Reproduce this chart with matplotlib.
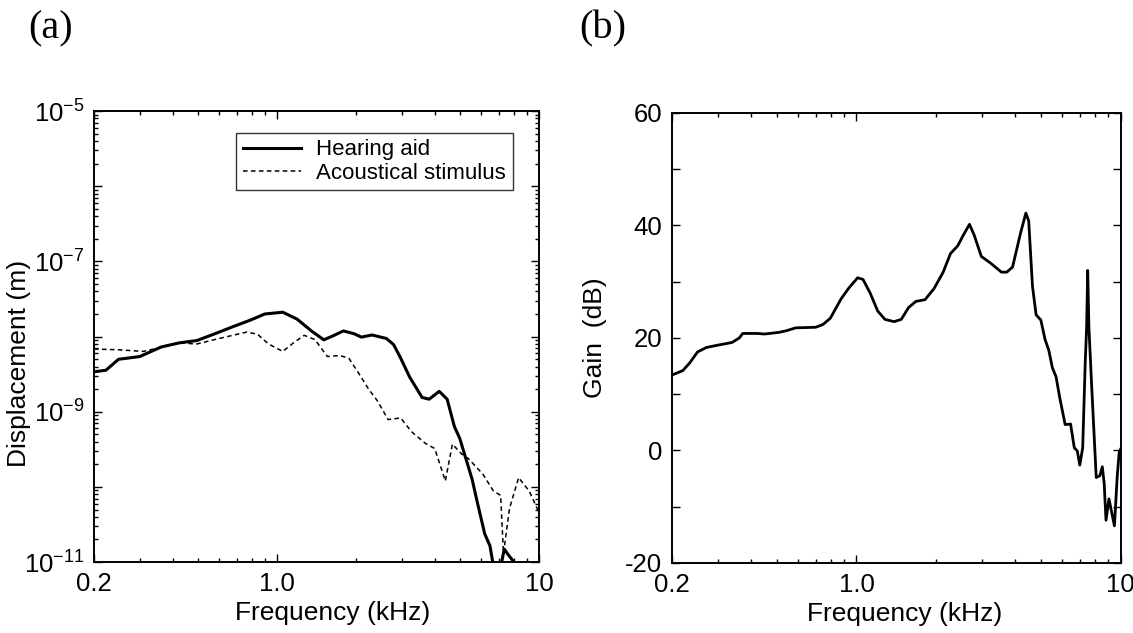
import numpy as np
import matplotlib
matplotlib.use("Agg")
import matplotlib.pyplot as plt
from matplotlib.ticker import LogLocator, FixedLocator, NullFormatter

plt.rcParams['font.family'] = ['Liberation Sans', 'DejaVu Sans']
plt.rcParams['mathtext.default'] = 'regular'

# --- (a) displacement ---
freq_aid = [0.2, 0.222, 0.248, 0.299, 0.361, 0.422, 0.494, 0.578, 0.676, 0.791,
            0.897, 1.05, 1.19, 1.35, 1.506, 1.629, 1.789, 1.966, 2.094, 2.30,
            2.61, 2.78, 2.96, 3.20, 3.57, 3.80, 4.15, 4.45, 4.74, 4.97,
            5.20, 5.54, 5.81, 6.19, 6.48, 6.65, 7.01, 7.35, 7.59, 7.95, 8.34]
disp_aid = [3.40e-9, 3.57e-9, 4.99e-9, 5.43e-9, 7.28e-9, 8.24e-9, 8.87e-9, 1.09e-8, 1.35e-8, 1.66e-8,
            2.00e-8, 2.11e-8, 1.71e-8, 1.19e-8, 9.06e-9, 1.02e-8, 1.19e-8, 1.09e-8, 9.84e-9, 1.05e-8,
            9.44e-9, 7.82e-9, 5.15e-9, 2.90e-9, 1.55e-9, 1.47e-9, 1.87e-9, 1.47e-9, 6.38e-10, 4.43e-10,
            2.63e-10, 1.27e-10, 6.09e-11, 2.38e-11, 1.65e-11, 9.8e-12, 6.5e-12, 1.49e-11, 1.27e-11, 1.03e-11, 6.5e-12]

freq_ac = [0.2, 0.248, 0.308, 0.361, 0.422, 0.494, 0.578, 0.676, 0.767, 0.842,
           0.926, 1.05, 1.153, 1.267, 1.392, 1.554, 1.735, 1.876, 2.03, 2.23,
           2.41, 2.65, 2.96, 3.25, 3.68, 3.99, 4.38, 4.66, 5.04, 5.37,
           6.09, 6.69, 7.12, 7.30, 7.70, 8.34, 9.16, 10.0]
disp_ac = [6.83e-9, 6.68e-9, 6.35e-9, 7.19e-9, 8.24e-9, 7.98e-9, 9.14e-9, 1.04e-8, 1.15e-8, 1.07e-8,
           7.98e-9, 6.35e-9, 8.24e-9, 1.04e-8, 9.14e-9, 5.43e-9, 5.60e-9, 5.15e-9, 3.40e-9, 2.01e-9,
           1.40e-9, 7.87e-10, 8.28e-10, 5.45e-10, 3.79e-10, 3.24e-10, 1.20e-10, 3.71e-10, 2.77e-10, 2.37e-10,
           1.48e-10, 8.77e-11, 7.74e-11, 1.3e-11, 5.21e-11, 1.33e-10, 8.77e-11, 4.46e-11]

# --- (b) gain ---
freq_gain = [0.2, 0.220, 0.234, 0.250, 0.270, 0.297, 0.338, 0.360, 0.371, 0.422,
             0.449, 0.510, 0.544, 0.589, 0.701, 0.747, 0.796, 0.876, 0.933, 1.010,
             1.059, 1.129, 1.203, 1.282, 1.388, 1.478, 1.575, 1.679, 1.818, 1.968,
             2.13, 2.27, 2.42, 2.54, 2.68, 2.79, 2.97, 3.22, 3.54, 3.71,
             3.90, 4.18, 4.38, 4.49, 4.64, 4.79, 4.99, 5.18, 5.35, 5.52,
             5.70, 5.89, 6.17, 6.47, 6.68, 6.86, 7.01, 7.19, 7.35, 7.44,
             7.51, 7.59, 7.78, 8.09, 8.35, 8.53, 8.67, 8.81, 9.04, 9.24,
             9.48, 9.72, 9.88, 10.0]
gain_db = [13.4, 14.2, 15.6, 17.5, 18.3, 18.7, 19.2, 20.0, 20.8, 20.8,
           20.7, 21.0, 21.3, 21.8, 21.9, 22.4, 23.5, 27.0, 28.8, 30.7,
           30.4, 27.9, 24.8, 23.3, 22.9, 23.3, 25.4, 26.5, 26.8, 28.8,
           31.7, 35.0, 36.4, 38.3, 40.2, 38.3, 34.5, 33.3, 31.7, 31.7,
           32.6, 38.6, 42.2, 40.8, 29.2, 24.1, 23.2, 19.7, 17.8, 14.7,
           13.1, 9.3, 4.6, 4.7, 0.5, -0.1, -2.6, 0.5, 15.6, 21.9,
           32.0, 21.9, 11.2, -4.8, -4.5, -2.9, -5.8, -12.4, -8.6, -10.8,
           -13.4, -4.5, -0.4, 0.2]

fig = plt.figure(figsize=(11.33, 6.33), dpi=100)
ax1 = fig.add_axes([0.083, 0.112, 0.393, 0.7125])
ax2 = fig.add_axes([0.593, 0.1106, 0.396, 0.711])

ax1.plot(freq_aid, disp_aid, color='black', lw=2.2, label='Hearing aid')
ax1.plot(freq_ac, disp_ac, color='black', lw=1.1, dashes=(3, 2.2), label='Acoustical stimulus')
ax1.set_xscale('log')
ax1.set_yscale('log')
ax1.set_xlim(0.2, 10)
ax1.set_ylim(1e-11, 1e-5)
ax1.yaxis.set_major_locator(FixedLocator([1e-11, 1e-10, 1e-9, 1e-8, 1e-7, 1e-6, 1e-5]))
ax1.set_yticklabels(['$10^{-11}$', '', '$10^{-9}$', '', '$10^{-7}$', '', '$10^{-5}$'])
ax1.yaxis.set_minor_locator(LogLocator(base=10, subs=np.arange(2, 10), numticks=20))
ax1.yaxis.set_minor_formatter(NullFormatter())
ax1.set_ylabel('Displacement (m)', fontsize=19)
ax1.yaxis.set_label_coords(-0.142, 0.44)
leg = ax1.legend(loc='upper right', bbox_to_anchor=(0.94, 0.952), fontsize=16,
                 handlelength=2.6, frameon=True, fancybox=False, borderaxespad=0,
                 borderpad=0.3, labelspacing=0.1, handletextpad=0.7)
leg.get_frame().set_edgecolor('black')
leg.get_frame().set_linewidth(1.0)

ax2.plot(freq_gain, gain_db, color='black', lw=2.0)
ax2.set_xscale('log')
ax2.set_xlim(0.2, 10)
ax2.set_ylim(-20, 60)
ax2.set_yticks([-20, -10, 0, 10, 20, 30, 40, 50, 60])
ax2.set_yticklabels(['-20', '', '0', '', '20', '', '40', '', '60'])
ax2.set_ylabel('Gain  (dB)', fontsize=19)
ax2.yaxis.set_label_coords(-0.145, 0.5)

for ax in (ax1, ax2):
    ax.xaxis.set_major_locator(FixedLocator([0.2, 1.0, 10]))
    ax.set_xticklabels(['0.2', '1.0', '10'])
    ax.xaxis.set_minor_locator(FixedLocator([0.3, 0.4, 0.5, 0.6, 0.7, 0.8, 0.9,
                                             2, 3, 4, 5, 6, 7, 8, 9]))
    ax.xaxis.set_minor_formatter(NullFormatter())
    ax.tick_params(which='both', direction='in', top=True, right=True,
                   labelsize=18.5, width=1.0)
    ax.tick_params(which='major', length=6)
    ax.tick_params(which='minor', length=3)
    ax.tick_params(axis='x', which='major', pad=7)
    ax.tick_params(axis='y', which='major', pad=7)
    ax.set_xlabel('Frequency (kHz)', fontsize=19)
    for sp in ax.spines.values():
        sp.set_linewidth(1.4)

ax1.xaxis.set_label_coords(0.535, -0.086)
ax2.xaxis.set_label_coords(0.518, -0.086)

fig.text(0.045, 0.954, '(a)', family='Liberation Serif', fontsize=29, ha='center', va='center')
fig.text(0.532, 0.954, '(b)', family='Liberation Serif', fontsize=29, ha='center', va='center')

fig.savefig('out.png', dpi=100)
